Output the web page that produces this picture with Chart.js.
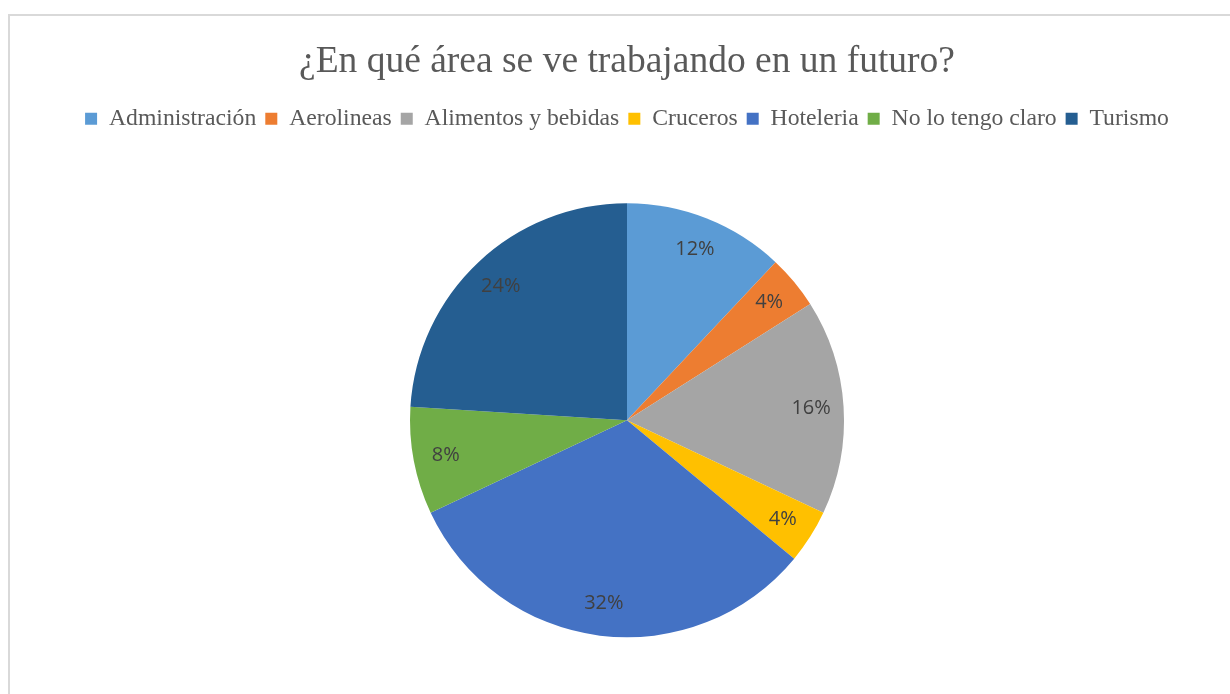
<!DOCTYPE html>
<html>
<head>
<meta charset="utf-8">
<script src="https://cdn.jsdelivr.net/npm/chart.js@4"></script>
<style>
  html, body { margin: 0; padding: 0; background: #fff; overflow: hidden; }
  #frame {
    position: absolute;
    left: 8px;
    top: 14px;
    width: 1238px;
    height: 700px;
    border: 2px solid #d9d9d9;
    box-sizing: border-box;
  }
  #wrap { position: absolute; left: 0; top: 0; width: 1234px; height: 684px; }
</style>
</head>
<body>
<div id="frame">
  <div id="wrap"><canvas id="pieChart"></canvas></div>
</div>
<script>
// ===============================
// DATA
// ===============================

const categories = ["Administración", "Aerolineas", "Alimentos y bebidas", "Cruceros", "Hoteleria", "No lo tengo claro", "Turismo"];
const percents = [12, 4, 16, 4, 32, 8, 24];
const colors = ["#5B9BD5", "#ED7D31", "#A5A5A5", "#FFC000", "#4472C4", "#70AD47", "#255E91"];
const titleText = "¿En qué área se ve trabajando en un futuro?";


// ===============================
// LABELS INSIDE SLICES
// ===============================

const sliceLabels = {
  id: "sliceLabels",
  afterDatasetsDraw(chart) {
    const ctx = chart.ctx;
    const meta = chart.getDatasetMeta(0);
    ctx.save();
    ctx.font = "20px 'Open Sans', 'Liberation Sans', sans-serif";
    ctx.fillStyle = "#404040";
    ctx.textAlign = "center";
    ctx.textBaseline = "middle";
    meta.data.forEach((arc, i) => {
      const p = arc.getProps(["x", "y", "startAngle", "endAngle", "outerRadius"], true);
      const mid = (p.startAngle + p.endAngle) / 2;
      const r = p.outerRadius * 0.85;
      ctx.fillText(percents[i] + "%", p.x + Math.cos(mid) * r, p.y + Math.sin(mid) * r);
    });
    ctx.restore();
  }
};


// ===============================
// CHART
// ===============================

new Chart(document.getElementById("pieChart"), {
  type: "pie",
  data: {
    labels: categories,
    datasets: [{
      data: percents,
      backgroundColor: colors,
      borderWidth: 0,
      radius: 217
    }]
  },
  options: {
    responsive: true,
    maintainAspectRatio: false,
    animation: false,
    plugins: {
      title: {
        display: true,
        text: titleText,
        color: "#595959",
        font: { family: "'Liberation Serif', 'Times New Roman', serif", size: 37.5, weight: "normal" },
        padding: { top: 24, bottom: 13 }
      },
      legend: {
        position: "top",
        labels: {
          color: "#595959",
          font: { family: "'Liberation Serif', 'Times New Roman', serif", size: 23.7 },
          boxWidth: 12,
          boxHeight: 12,
          padding: 9
        }
      },
      tooltip: { enabled: false }
    }
  },
  plugins: [sliceLabels]
});
</script>
</body>
</html>
